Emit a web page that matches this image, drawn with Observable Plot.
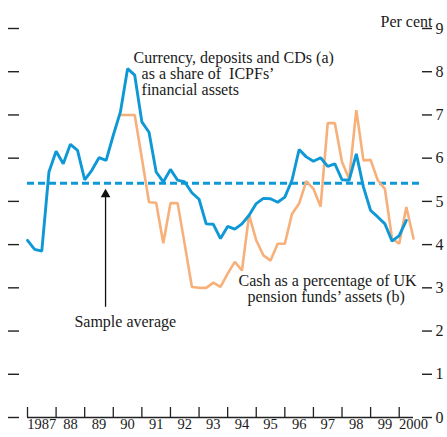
<!DOCTYPE html>
<html><head><meta charset="utf-8">
<script src="https://cdn.jsdelivr.net/npm/d3@7"></script>
<script src="https://cdn.jsdelivr.net/npm/@observablehq/plot@0.6"></script>
<style>html,body{margin:0;padding:0;background:#fff} svg{display:block}</style>
</head><body><div id="chart"></div>
<script>
// Quarterly series, first value = Q1 1987
const blueStart = 1987;
const icpfCurrency = [
  4.10, 3.89, 3.85, 5.68,
  6.16, 5.87, 6.32, 6.18,
  5.50, 5.72, 6.01, 5.95,
  6.53, 7.07, 8.07, 7.92,
  6.84, 6.60, 5.68, 5.45,
  5.74, 5.49, 5.45, 5.20,
  5.05, 4.48, 4.47, 4.14,
  4.42, 4.36, 4.48, 4.68,
  4.95, 5.07, 5.06, 4.98,
  5.10, 5.49, 6.20, 6.03,
  5.93, 6.01, 5.81, 5.87,
  5.50, 5.49, 6.10, 5.33,
  4.79, 4.64, 4.48, 4.08,
  4.21, 4.56
];
// first value = Q2 1990
const orangeStart = 1990.25;
const pensionCash = [
  7.00, 7.00, 7.00,
  6.00, 4.98, 4.97, 4.03,
  4.96, 4.96, 4.00, 3.02,
  3.00, 3.00, 3.12, 3.02,
  3.33, 3.60, 3.40, 4.69,
  4.10, 3.75, 3.63, 4.02,
  4.02, 4.71, 4.95, 5.47,
  5.29, 4.88, 6.81, 6.81,
  5.91, 5.52, 7.11, 5.95,
  5.96, 5.49, 5.29, 4.14,
  4.02, 4.87, 4.14
];
const sampleAverage = 5.42;
const years = d3.range(1987, 2001);
const yearLabels = ["1987","88","89","90","91","92","93","94","95","96","97","98","99","2000"];
const yTicks = d3.range(0, 10);

const blueData = icpfCurrency.map((v, i) => ({t: blueStart + i / 4, v}));
const orangeData = pensionCash.map((v, i) => ({t: orangeStart + i / 4, v}));

const annotations = [
  {t: 1990.71, v: 8.33, text: "Currency, deposits and CDs (a)"},
  {t: 1990.99, v: 7.96, text: "as a share of  ICPFs’"},
  {t: 1990.99, v: 7.59, text: "financial assets"},
  {t: 1994.38, v: 3.15, text: "Cash as a percentage of UK"},
  {t: 1994.69, v: 2.78, text: "pension funds’ assets (b)"},
  {t: 1988.64, v: 2.22, text: "Sample average"}
];
const arrow = {t: 1989.73, v1: 2.55, v2: 5.14};

const blue = "#0f98d6";
const orange = "#f7b07a";

const chart = Plot.plot({
  width: 447, height: 437,
  marginLeft: 27, marginRight: 34, marginTop: 28, marginBottom: 20,
  x: {domain: [1987, 2000.5], axis: null},
  y: {domain: [0, 9], axis: null},
  style: {fontFamily: "Liberation Serif, Times New Roman, serif", fontSize: "16px", color: "#1a1a1a", background: "white"},
  marks: [
    Plot.axisY(yTicks, {anchor: "left", tickSize: 11, dx: -8, tickFormat: () => "", stroke: "#222", strokeWidth: 1.4}),
    Plot.axisY(yTicks, {anchor: "right", tickSize: 10, tickPadding: 4, dx: 8, tickFormat: d => String(d), stroke: "#222", strokeWidth: 1.4, fontSize: 16}),
    Plot.ruleY([0], {stroke: "#222", strokeWidth: 1.3}),
    Plot.tickX(years, {x: d => d, insetTop: 379, stroke: "#222", strokeWidth: 1.3}),
    Plot.text(yearLabels, {x: (d, i) => years[i] + 0.5, frameAnchor: "bottom", dy: 11, fontSize: 14.5}),
    Plot.text(["Per cent"], {frameAnchor: "top-right", dx: 19, dy: -13, textAnchor: "end", fontSize: 16}),
    Plot.ruleY([sampleAverage], {x1: 1987, x2: 2000.81, stroke: blue, strokeWidth: 3, strokeDasharray: "7,4"}),
    Plot.line(orangeData, {x: "t", y: "v", stroke: orange, strokeWidth: 2.6, strokeLinejoin: "miter"}),
    Plot.line(blueData, {x: "t", y: "v", stroke: blue, strokeWidth: 2.9, strokeLinejoin: "miter"}),
    Plot.ruleX([arrow], {x: "t", y1: "v1", y2: "v2", stroke: "#111", strokeWidth: 1.3}),
    Plot.dot([arrow], {x: "t", y: "v2", symbol: "triangle", r: 3.6, fill: "#111", stroke: "none", dy: -1}),
    Plot.text(annotations, {x: "t", y: "v", text: "text", textAnchor: "start", fontSize: 16})
  ]
});
document.getElementById("chart").appendChild(chart);
</script>
</body></html>
